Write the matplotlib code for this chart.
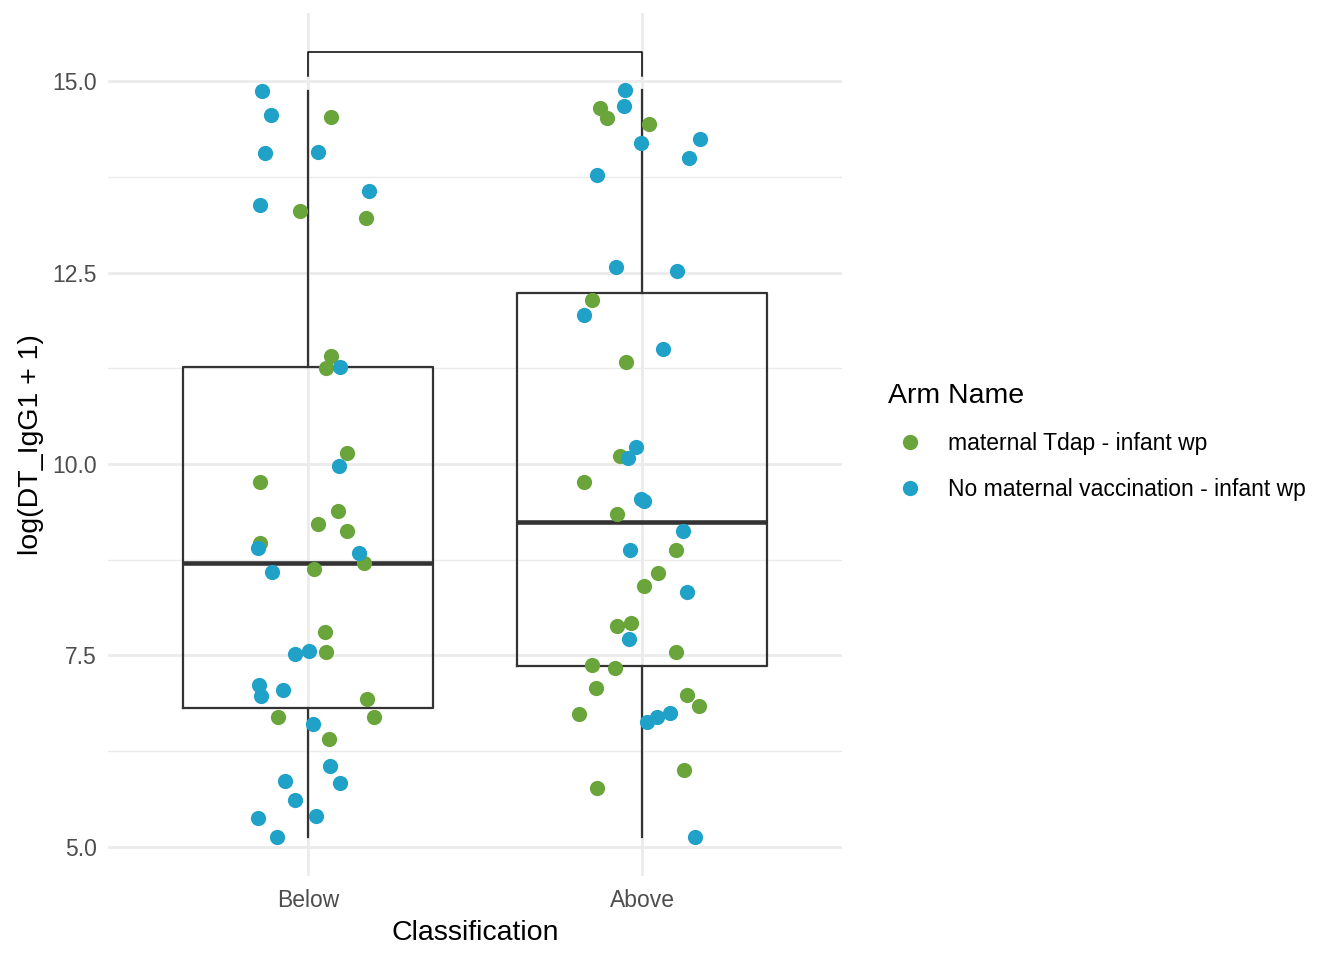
import numpy as np
import matplotlib
matplotlib.use("Agg")
import matplotlib.pyplot as plt
from matplotlib.lines import Line2D

plt.rcParams['font.family'] = ['Liberation Sans', 'DejaVu Sans']

##### DATA #####
categories = ['Below', 'Above']
arm_names = ['maternal Tdap - infant wp', 'No maternal vaccination - infant wp']
arm_colors = ['#69A53B', '#1FA1C8']

# Below / maternal Tdap
below_tdap_y = [14.53, 13.31, 13.21, 11.41, 11.26, 10.14, 9.77, 9.38, 9.22, 9.13,
                8.97, 8.71, 8.63, 7.80, 7.54, 6.93, 6.69, 6.70, 6.41]
below_tdap_dx = [0.069, -0.024, 0.174, 0.069, 0.054, 0.117, -0.144, 0.090, 0.030, 0.117,
                 -0.144, 0.168, 0.018, 0.051, 0.054, 0.177, -0.090, 0.198, 0.063]

# Below / no maternal vaccination
below_none_y = [14.87, 14.56, 14.06, 14.08, 13.38, 13.56, 11.27, 9.98, 8.90, 8.84,
                8.59, 7.56, 7.52, 7.12, 7.05, 6.97, 6.61, 6.05, 5.86, 5.84,
                5.61, 5.41, 5.38, 5.13]
below_none_dx = [-0.138, -0.111, -0.129, 0.030, -0.144, 0.183, 0.096, 0.093, -0.150, 0.153,
                 -0.108, 0.003, -0.039, -0.147, -0.075, -0.141, 0.015, 0.066, -0.069, 0.096,
                 -0.039, 0.024, -0.150, -0.093]

# Above / maternal Tdap
above_tdap_y = [14.65, 14.52, 14.44, 12.14, 11.33, 10.11, 9.77, 9.35, 8.88, 8.58,
                8.41, 7.89, 7.93, 7.55, 7.38, 7.33, 7.08, 6.99, 6.84, 6.74,
                6.01, 5.77]
above_tdap_dx = [-0.126, -0.105, 0.021, -0.150, -0.048, -0.066, -0.174, -0.075, 0.102, 0.048,
                 0.006, -0.075, -0.033, 0.102, -0.150, -0.081, -0.138, 0.135, 0.171, -0.189,
                 0.126, -0.135]

# Above / no maternal vaccination
above_none_y = [14.88, 14.67, 14.19, 14.24, 13.99, 13.77, 12.57, 12.52, 11.95, 11.50,
                10.22, 10.08, 9.54, 9.52, 9.13, 8.88, 8.33, 7.72, 6.63, 6.69,
                6.75, 5.13]
above_none_dx = [-0.051, -0.054, -0.003, 0.174, 0.141, -0.135, -0.078, 0.105, -0.174, 0.063,
                 -0.018, -0.042, -0.003, 0.006, 0.123, -0.036, 0.135, -0.039, 0.015, 0.045,
                 0.084, 0.159]

# significance bracket (no label)
bracket_top = 15.38
bracket_tip = 15.07

y_ticks = [5.0, 7.5, 10.0, 12.5, 15.0]
y_minor = [6.25, 8.75, 11.25, 13.75]

##### PLOT #####
fig = plt.figure(figsize=(13.44, 9.6), dpi=100)
ax = fig.add_axes([0.0801, 0.0875, 0.5467, 0.899])

positions = [1, 2]
groups = [below_tdap_y + below_none_y, above_tdap_y + above_none_y]

line_c = '#333333'
ax.boxplot(groups, positions=positions, widths=0.75, whis=1.5, showfliers=False,
           showcaps=False,
           boxprops=dict(color=line_c, linewidth=1.6),
           whiskerprops=dict(color=line_c, linewidth=1.6),
           medianprops=dict(color=line_c, linewidth=3.3, solid_capstyle='butt'),
           zorder=2)

# jittered points
pts = [
    (1, below_tdap_dx, below_tdap_y, 0),
    (1, below_none_dx, below_none_y, 1),
    (2, above_tdap_dx, above_tdap_y, 0),
    (2, above_none_dx, above_none_y, 1),
]
for pos, dx, yv, k in pts:
    ax.scatter(pos + np.array(dx), yv, s=120, color=arm_colors[k], linewidths=0, zorder=3)

# bracket
ax.plot([1, 1, 2, 2], [bracket_tip, bracket_top, bracket_top, bracket_tip],
        color='black', linewidth=1.1, zorder=3)

# axes styling (theme_minimal look)
ax.set_xlim(0.4, 2.6)
ax.set_ylim(4.62, 15.89)
ax.set_xticks(positions)
ax.set_xticklabels(categories)
ax.set_yticks(y_ticks)
ax.set_yticklabels([f"{v:.1f}" for v in y_ticks])
ax.set_yticks(y_minor, minor=True)
ax.tick_params(axis='both', which='both', length=0, labelsize=16.5, labelcolor='#4D4D4D')
ax.tick_params(axis='x', pad=9.5)
ax.tick_params(axis='y', pad=8)
ax.grid(which='major', color='#EBEBEB', linewidth=2.0)
ax.grid(which='minor', axis='y', color='#EBEBEB', linewidth=1.0)
ax.set_axisbelow(True)
for s in ax.spines.values():
    s.set_visible(False)

ax.set_xlabel('Classification', fontsize=20.5, color='black', labelpad=5.5)
ax.set_ylabel('log(DT_IgG1 + 1)', fontsize=20.5, color='black', labelpad=6)

# legend
handles = [Line2D([0], [0], marker='o', linestyle='none', markersize=11,
                  markerfacecolor=c, markeredgewidth=0) for c in arm_colors]
leg = fig.legend(handles, arm_names, loc='upper left', bbox_to_anchor=(0.660, 0.613),
                 frameon=False, title='Arm Name', fontsize=16.5, title_fontsize=20.5,
                 alignment='left', handletextpad=1.15, labelspacing=1.0, borderpad=0,
                 handlelength=1.0)
leg.get_title().set_position((-10, 0))

fig.savefig('out.png', dpi=100, facecolor='white')
